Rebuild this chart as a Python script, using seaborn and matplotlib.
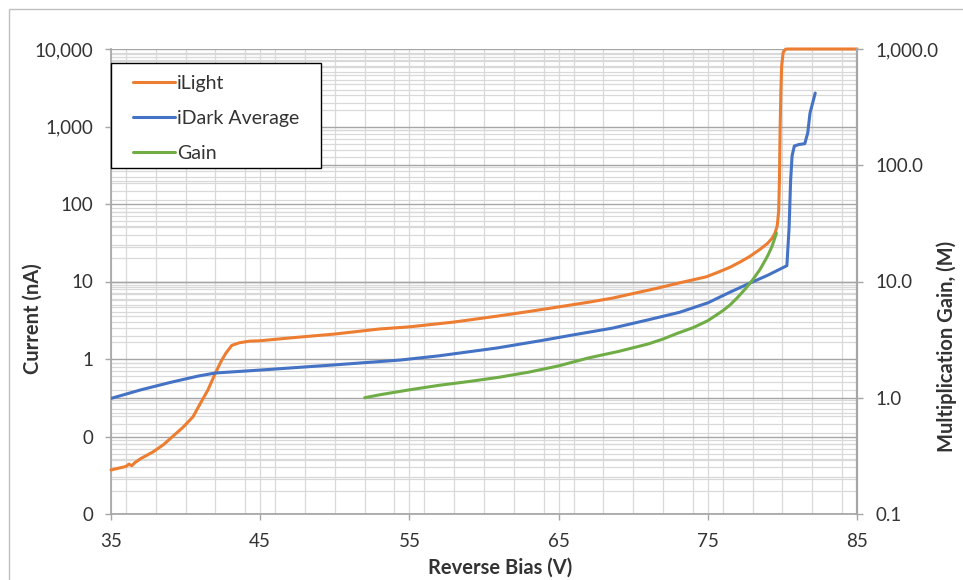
import numpy as np
import matplotlib
matplotlib.use("Agg")
import matplotlib.pyplot as plt
import matplotlib.ticker as mticker
import matplotlib.transforms as mtransforms
from matplotlib.lines import Line2D
from matplotlib.patches import Rectangle
import seaborn as sns

# values
bias_light = [35, 35.5, 36, 36.2, 36.4, 36.6, 37, 37.8, 38.5, 39, 39.8, 40.5, 41,
              41.5, 42, 42.4, 42.7, 43.1, 43.6, 44.3, 45, 47, 50, 53, 55, 58, 61,
              63, 65, 67, 68.6, 70, 71.5, 73.1, 74.9, 75.7, 76.5, 77.2, 77.8, 78.5,
              79, 79.3, 79.5, 79.65, 79.75, 79.8, 79.85, 79.9, 79.95, 80.05, 80.2,
              80.35, 85]
i_light = [0.037, 0.039, 0.041, 0.044, 0.042, 0.046, 0.052, 0.063, 0.078, 0.095,
           0.13, 0.18, 0.27, 0.40, 0.66, 0.95, 1.19, 1.5, 1.62, 1.7, 1.72, 1.87,
           2.1, 2.44, 2.6, 3.0, 3.6, 4.1, 4.7, 5.4, 6.1, 7.0, 8.1, 9.6, 11.5, 13.2,
           15.3, 18, 21, 26, 31, 36, 42, 52, 80, 200, 1000, 3000, 6000, 9000, 9900,
           10000, 10000]

bias_dark = [35, 37, 39, 40.8, 42, 45, 50, 54.4, 57, 60.9, 64, 66, 68.6, 71, 73.1,
             75, 76.5, 77.8, 79, 80.3, 80.45, 80.55, 80.65, 80.8, 81.1, 81.5, 81.7,
             81.85, 82.2]
i_dark = [0.31, 0.40, 0.50, 0.60, 0.66, 0.72, 0.84, 0.97, 1.1, 1.39, 1.75, 2.05,
          2.5, 3.2, 4.0, 5.3, 7.3, 9.5, 12, 16, 50, 200, 420, 560, 585, 600, 830,
          1490, 2700]

bias_gain = [52, 53, 55, 57, 59, 61, 63, 65, 67, 69, 71, 72, 73, 74, 75, 76, 76.5,
             77, 77.5, 78, 78.5, 79, 79.3, 79.6]
gain = [1.0, 1.06, 1.17, 1.28, 1.38, 1.5, 1.66, 1.88, 2.2, 2.5, 2.9, 3.2, 3.6, 4.0,
        4.6, 5.6, 6.3, 7.3, 8.6, 10.3, 12.7, 16.5, 20, 26]

x_ticks = [35, 45, 55, 65, 75, 85]
right_decades = [0.1, 1, 10, 100, 1000]

ORANGE = "#ED7D31"
BLUE = "#4472C4"
GREEN = "#70AD47"
MAJOR = "#a6a6a6"
MINOR = "#d9d9d9"
TXT = "#333333"

sns.set_theme(style="white")
plt.rcParams["font.family"] = ["Lato", "DejaVu Sans"]
plt.rcParams["font.size"] = 13.5

fig = plt.figure(figsize=(9.63, 5.8), dpi=100)
ax = fig.add_axes([111 / 963, 66 / 580, 746 / 963, 465 / 580])
ax2 = ax.twinx()

sns.lineplot(x=bias_light, y=i_light, ax=ax, color=ORANGE, linewidth=2.2,
             label="iLight", legend=False, zorder=3, clip_on=False)
sns.lineplot(x=bias_dark, y=i_dark, ax=ax, color=BLUE, linewidth=2.2,
             label="iDark Average", legend=False, zorder=3)
sns.lineplot(x=bias_gain, y=gain, ax=ax2, color=GREEN, linewidth=2.2,
             label="Gain", legend=False, zorder=3)

ax.set_yscale("log")
ax2.set_yscale("log")

ax.xaxis.set_major_locator(mticker.FixedLocator(x_ticks))
ax.xaxis.set_minor_locator(mticker.MultipleLocator(2))
ax.xaxis.set_minor_formatter(mticker.NullFormatter())
ax.yaxis.set_major_locator(mticker.LogLocator(base=10, numticks=10))
ax.yaxis.set_minor_locator(mticker.LogLocator(base=10, subs=np.arange(2, 10), numticks=20))
ax.yaxis.set_major_formatter(mticker.FuncFormatter(lambda v, p: f"{v:,.0f}"))
ax.yaxis.set_minor_formatter(mticker.NullFormatter())
ax2.yaxis.set_major_locator(mticker.FixedLocator(right_decades))
ax2.yaxis.set_minor_locator(mticker.NullLocator())
ax2.yaxis.set_major_formatter(mticker.FuncFormatter(lambda v, p: f"{v:,.1f}"))

# grid: left scale via ax.grid, right scale drawn on ax so it stays under all lines
ax.set_axisbelow(True)
ax.grid(which="major", axis="y", color=MAJOR, linewidth=1.0)
ax.grid(which="minor", axis="y", color=MINOR, linewidth=0.9)
ax.grid(which="both", axis="x", color=MINOR, linewidth=0.9)
ax2.grid(False)
blend = mtransforms.blended_transform_factory(ax.transAxes, ax2.transData)
for d in right_decades[:-1]:
    for k in range(1, 10):
        g = d * k
        ln = Line2D([0, 1], [g, g], transform=blend, color=MAJOR if k == 1 else MINOR,
                    linewidth=1.0 if k == 1 else 0.9, zorder=0.6)
        ax.add_artist(ln)

for a in (ax, ax2):
    for side in ("left", "right", "bottom", "top"):
        a.spines[side].set_visible(False)
ax.spines["left"].set_visible(True)
ax.spines["left"].set_color(MAJOR)
ax.spines["bottom"].set_visible(True)
ax.spines["bottom"].set_color(MAJOR)
ax2.spines["right"].set_visible(True)
ax2.spines["right"].set_color(MAJOR)
ax2.spines["right"].set_linewidth(1.6)

ax.tick_params(axis="both", which="major", direction="out", length=4.5, width=1,
               color=MAJOR, labelcolor=TXT, labelsize=13.5, left=True, bottom=True)
ax.tick_params(axis="y", which="major", pad=8)
ax.tick_params(axis="x", which="major", pad=9)
ax.tick_params(axis="both", which="minor", length=0)
ax2.tick_params(axis="y", which="major", direction="out", length=4.5, width=1,
                color=MAJOR, labelcolor=TXT, labelsize=13.5, pad=9, right=True)
ax2.tick_params(axis="x", which="both", bottom=False, top=False,
                labelbottom=False, labeltop=False)

ax.set_xlabel("Reverse Bias (V)", fontweight="bold", color=TXT, fontsize=14.5)
ax.set_ylabel("Current (nA)", fontweight="bold", color=TXT, fontsize=14.5)
ax2.set_ylabel("Multiplication Gain, (M)", fontweight="bold", color=TXT, fontsize=14.5)
ax.xaxis.set_label_coords(0.521, -0.094)
ax.yaxis.set_label_coords(-0.091, 0.42)
ax2.yaxis.set_label_coords(1.107, 0.36)

ax.set_xlim(35, 85)
ax.set_ylim(0.01, 10000)
ax2.set_ylim(0.1, 1000)

# legend: frame drawn as its own box, entries placed inside it
ax2.add_patch(Rectangle((0, 346 / 465), 210 / 746, 105 / 465, transform=ax2.transAxes,
                        facecolor="white", edgecolor="black", linewidth=1.0,
                        zorder=9, clip_on=False))
handles = [h for h in ax.get_lines() if h.get_label() in ("iLight", "iDark Average")] + \
          [h for h in ax2.get_lines() if h.get_label() == "Gain"]
leg = ax2.legend(handles=handles, labels=[h.get_label() for h in handles],
                 loc="upper left", bbox_to_anchor=(22 / 746, (514 - 75) / 465),
                 frameon=False, handlelength=2.15, handletextpad=0.12,
                 labelspacing=0.92, borderpad=0, borderaxespad=0,
                 fontsize=14, labelcolor=TXT)
leg.set_zorder(10)

fig.patches.append(Rectangle((9 / 963, -0.1), 1.2, 1.1 - 9 / 580,
                             transform=fig.transFigure, fill=False,
                             edgecolor="#bfbfbf", linewidth=1.0))

fig.savefig("out.png", dpi=100)
